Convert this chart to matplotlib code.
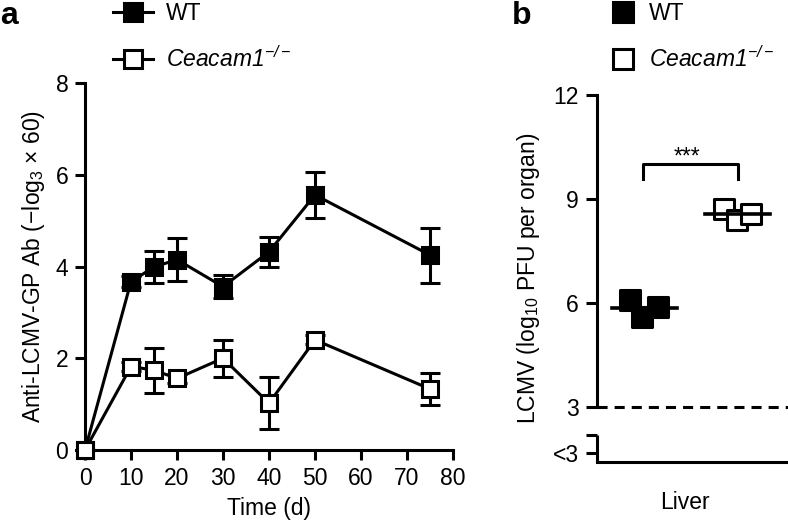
import matplotlib
matplotlib.use("Agg")
import matplotlib.pyplot as plt
import matplotlib.transforms as mtransforms
from matplotlib.lines import Line2D
import numpy as np

plt.rcParams['font.family'] = ['Liberation Sans', 'DejaVu Sans']
plt.rcParams['mathtext.fontset'] = 'custom'
plt.rcParams['mathtext.rm'] = 'Liberation Sans'
plt.rcParams['mathtext.it'] = 'Liberation Sans:italic'
plt.rcParams['mathtext.default'] = 'regular'

# panel a: antibody titre over time
days = [0, 10, 15, 20, 30, 40, 50, 75]
wt_mean = [0, 3.67, 3.99, 4.15, 3.56, 4.32, 5.56, 4.25]
wt_err = [0, 0.12, 0.34, 0.47, 0.25, 0.33, 0.50, 0.60]
ko_mean = [0, 1.82, 1.74, 1.56, 2.00, 1.02, 2.40, 1.33]
ko_err = [0, 0.10, 0.49, 0.10, 0.40, 0.57, 0.10, 0.35]

# panel b: liver virus titre, individual animals
wt_liver = [6.07, 5.58, 5.89]
ko_liver = [8.71, 8.40, 8.57]
wt_jitter = [-0.14, -0.01, 0.16]
ko_jitter = [-0.15, -0.01, 0.14]

b_ticks = [1.67, 2.18, 3, 6, 9, 12]
b_ticklabels = ['<3', '', '3', '6', '9', '12']

W, H = 788, 527
fig = plt.figure(figsize=(W / 100, H / 100), dpi=100)

FS = 16.5
LW = 2.2

def px_axes(l, t, r, b):
    return fig.add_axes([l / W, 1 - b / H, (r - l) / W, (b - t) / H])

# ---------------- panel a ----------------
ax = px_axes(85, 83, 453, 450)
ko_label = r'Ceacam1$^{-/-}$'
ax.errorbar(days, wt_mean, yerr=wt_err, color='black', lw=LW, marker='s',
            ms=12, mfc='black', mec='black', mew=LW, capsize=7,
            elinewidth=LW, capthick=LW, clip_on=False, zorder=3)
ax.errorbar(days, ko_mean, yerr=ko_err, color='black', lw=LW, marker='s',
            ms=12, mfc='white', mec='black', mew=LW, capsize=7,
            elinewidth=LW, capthick=LW, clip_on=False, zorder=4)
ax.set_xlim(0, 80)
ax.set_ylim(0, 8)
ax.set_xticks(range(0, 81, 10))
ax.set_yticks([0, 2, 4, 6, 8])
for s in ['top', 'right']:
    ax.spines[s].set_visible(False)
for s in ['left', 'bottom']:
    ax.spines[s].set_linewidth(LW)
ax.tick_params(width=LW, length=7, labelsize=FS, pad=5)
ax.set_xlabel('Time (d)', fontsize=FS, labelpad=5)
ax.set_ylabel(r'Anti-LCMV-GP Ab ($-$log$_3$ $\times$ 60)', fontsize=FS, labelpad=6)

handles_a = [
    Line2D([], [], color='black', lw=LW, marker='s', ms=13, mfc='black', mew=LW),
    Line2D([], [], color='black', lw=LW, marker='s', ms=13, mfc='white', mew=LW),
]
leg_a = fig.legend(handles_a, ['WT', ko_label], loc='upper left',
                   bbox_to_anchor=(113 / W, 1 - 2 / H), frameon=False, fontsize=FS,
                   handlelength=1.75, handletextpad=0.55, labelspacing=0.95,
                   borderpad=0, borderaxespad=0)
leg_a.get_texts()[1].set_fontstyle('italic')

fig.text(0 / W, 1 - 16 / H, 'a', fontsize=23, fontweight='bold', va='center')

# ---------------- panel b ----------------
bx = px_axes(597, 95, 788, 461.7)
bx.set_xlim(0.516, 2.53)
bx.set_ylim(1.41, 12)

wx = 1 + np.array(wt_jitter)
kx = 2 + np.array(ko_jitter)
bx.scatter(wx, wt_liver, marker='s', s=15 ** 2, facecolor='black',
           edgecolor='black', linewidth=LW, zorder=3)
bx.scatter(kx, ko_liver, marker='s', s=15 ** 2, facecolor='white',
           edgecolor='black', linewidth=LW, zorder=3)
bx.plot([1 - 0.33, 1 + 0.36], [np.mean(wt_liver)] * 2, color='black', lw=2.6, zorder=4)
bx.plot([2 - 0.34, 2 + 0.34], [np.mean(ko_liver)] * 2, color='black', lw=2.6, zorder=4)

# detection limit
bx.axhline(3, color='black', lw=LW, ls=(0, (3.3, 2.3)), zorder=2)

# significance bracket
bx.plot([1, 1, 2, 2], [9.56, 10.0, 10.0, 9.56], color='black', lw=LW, clip_on=False)
bx.text(1.46, 9.88, '***', ha='center', va='bottom', fontsize=FS)

bx.spines['top'].set_visible(False)
bx.spines['right'].set_visible(False)
bx.spines['left'].set_bounds(3, 12)
bx.spines['left'].set_linewidth(LW)
bx.spines['bottom'].set_linewidth(LW)
trans = mtransforms.blended_transform_factory(bx.transAxes, bx.transData)
bx.plot([0, 0], [1.41, 2.18], color='black', lw=LW, transform=trans,
        clip_on=False, solid_capstyle='butt')

bx.set_yticks(b_ticks)
bx.set_yticklabels(b_ticklabels)
bx.set_xticks([1.44])
bx.set_xticklabels(['Liver'])
bx.tick_params(axis='y', width=LW, length=8, labelsize=FS, pad=5)
bx.tick_params(axis='x', length=0, labelsize=FS, pad=21)
bx.set_ylabel(r'LCMV (log$_{10}$ PFU per organ)', fontsize=FS, labelpad=8)

handles_b = [
    Line2D([], [], ls='none', marker='s', ms=14, mfc='black', mec='black', mew=LW),
    Line2D([], [], ls='none', marker='s', ms=14, mfc='white', mec='black', mew=LW),
]
leg_b = fig.legend(handles_b, ['WT', ko_label], loc='upper left',
                   bbox_to_anchor=(612 / W, 1 - 2 / H), frameon=False, fontsize=FS,
                   handlelength=1.0, handletextpad=0.6, labelspacing=0.95,
                   borderpad=0, borderaxespad=0)
leg_b.get_texts()[1].set_fontstyle('italic')

fig.text(512 / W, 1 - 16 / H, 'b', fontsize=23, fontweight='bold', va='center')

fig.savefig('out.png', dpi=100)
